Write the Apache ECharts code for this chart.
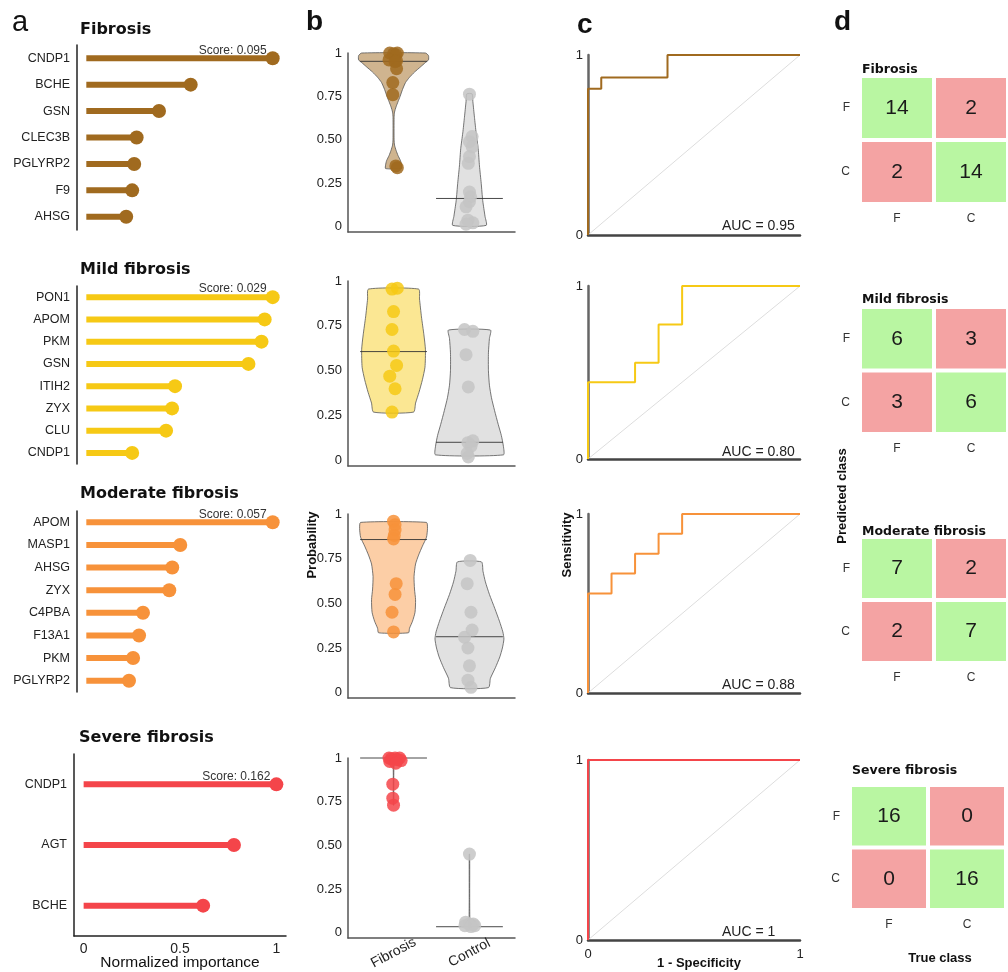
<!DOCTYPE html>
<html><head><meta charset="utf-8">
<script src="https://cdn.jsdelivr.net/npm/echarts@6/dist/echarts.min.js"></script>
<style>html,body{margin:0;padding:0;background:#fff}#c{width:1008px;height:972px}</style>
</head><body><div id="c"></div>
<script>
// ---------- DATA ----------
// Panel a: normalized importance
const stages = ['Fibrosis', 'Mild fibrosis', 'Moderate fibrosis', 'Severe fibrosis'];
const genesFibrosis = ['CNDP1','BCHE','GSN','CLEC3B','PGLYRP2','F9','AHSG'];
const impFibrosis   = [1, 0.56, 0.39, 0.27, 0.257, 0.246, 0.214];
const genesMild     = ['PON1','APOM','PKM','GSN','ITIH2','ZYX','CLU','CNDP1'];
const impMild       = [1, 0.957, 0.94, 0.87, 0.476, 0.46, 0.428, 0.246];
const genesModerate = ['APOM','MASP1','AHSG','ZYX','C4PBA','F13A1','PKM','PGLYRP2'];
const impModerate   = [1, 0.504, 0.461, 0.445, 0.304, 0.283, 0.251, 0.229];
const genesSevere   = ['CNDP1','AGT','BCHE'];
const impSevere     = [1, 0.78, 0.62];
const topScores     = ['0.095','0.029','0.057','0.162'];
const importanceTicks = [0, 0.5, 1];

// Panel b: predicted probabilities (value, jitter)
const groups = ['Fibrosis','Control'];
const probTicks = [0, 0.25, 0.5, 0.75, 1];
const pFibrosisF = [1.0,1.0,0.995,0.99,0.96,0.955,0.95,0.91,0.83,0.76,0.35,0.34];
const jFibrosisF = [-0.05,0.05,0.0,0.03,-0.06,0.04,0.02,0.04,-0.01,-0.01,0.03,0.05];
const pFibrosisC = [0.763,0.519,0.49,0.46,0.404,0.365,0.20,0.173,0.144,0.115,0.038,0.023,0.015];
const jFibrosisC = [0,0.035,0,0.035,0,-0.015,0,0.015,0,-0.045,-0.02,0.045,-0.045];
const pMildF = [0.96,0.955,0.83,0.73,0.61,0.53,0.47,0.40,0.27];
const jMildF = [0.05,-0.02,0,-0.02,0,0.04,-0.05,0.02,-0.02];
const pMildC = [0.73,0.72,0.59,0.41,0.11,0.10,0.08,0.04,0.02];
const jMildC = [-0.065,0.045,-0.045,-0.015,0.045,-0.02,0.02,-0.03,-0.015];
const pModF = [0.96,0.94,0.91,0.88,0.86,0.61,0.55,0.45,0.34];
const jModF = [0,0.02,0.02,0.01,0,0.035,0.02,-0.02,0];
const pModC = [0.74,0.61,0.45,0.35,0.31,0.25,0.15,0.07,0.03];
const jModC = [0.01,-0.03,0.02,0.035,-0.065,-0.02,0,-0.02,0.02];
const pSevF = [1.0,1.0,1.0,0.995,0.99,0.985,0.98,0.97,0.85,0.77,0.73];
const jSevF = [-0.06,0.02,0.08,-0.03,0.05,0.1,-0.05,0.03,-0.01,-0.01,0];
const pSevC = [0.45,0.06,0.05,0.05,0.04,0.04,0.035];
const jSevC = [0,-0.05,0.05,0.0,-0.06,0.07,0.02];
const medFibrosis = [0.952, 0.163];
const medMild     = [0.607, 0.102];
const medModerate = [0.857, 0.313];
const medSevere   = [1.0, 0.034];
// violin outlines: [probability, half width in group units]
const vFibrosisF = [[1.0,0.42],[0.985,0.46],[0.96,0.46],[0.945,0.42],[0.92,0.355],[0.89,0.276],[0.86,0.21],[0.83,0.158],[0.79,0.118],[0.75,0.086],[0.72,0.059],[0.69,0.033],[0.66,0.013],[0.63,0.007],[0.5,0.007],[0.47,0.013],[0.44,0.033],[0.41,0.059],[0.38,0.092],[0.355,0.105],[0.335,0.105]];
const vFibrosisC = [[0.765,0.035],[0.72,0.045],[0.63,0.066],[0.54,0.088],[0.45,0.115],[0.35,0.132],[0.25,0.155],[0.15,0.175],[0.06,0.205],[0.008,0.22]];
const vMildF = [[0.955,0.33],[0.90,0.342],[0.80,0.368],[0.70,0.40],[0.62,0.42],[0.52,0.414],[0.45,0.38],[0.38,0.335],[0.32,0.29],[0.27,0.263]];
const vMildC = [[0.727,0.276],[0.68,0.263],[0.60,0.25],[0.50,0.25],[0.42,0.263],[0.35,0.29],[0.28,0.33],[0.20,0.38],[0.14,0.42],[0.08,0.447],[0.032,0.447]];
const vModF = [[0.953,0.434],[0.92,0.447],[0.87,0.434],[0.82,0.38],[0.77,0.33],[0.72,0.29],[0.65,0.27],[0.58,0.276],[0.52,0.29],[0.45,0.283],[0.40,0.25],[0.36,0.21],[0.335,0.197]];
const vModC = [[0.732,0.158],[0.68,0.178],[0.62,0.21],[0.55,0.263],[0.47,0.335],[0.40,0.395],[0.34,0.44],[0.30,0.454],[0.25,0.434],[0.20,0.40],[0.14,0.342],[0.08,0.276],[0.028,0.25]];
const vSevF = [[1.0,0.012],[0.97,0.006],[0.9,0.003],[0.73,0.003]];
const vSevC = [[0.45,0.003],[0.2,0.003],[0.08,0.005],[0.03,0.01]];

// Panel c: ROC curves [1-specificity, sensitivity]
const rocFibrosis = [[0,0],[0,0.8125],[0.0625,0.8125],[0.0625,0.875],[0.375,0.875],[0.375,1],[1,1]];
const rocMild = [[0,0],[0,0.444],[0.222,0.444],[0.222,0.556],[0.333,0.556],[0.333,0.778],[0.444,0.778],[0.444,1],[1,1]];
const rocModerate = [[0,0],[0,0.556],[0.111,0.556],[0.111,0.667],[0.222,0.667],[0.222,0.778],[0.333,0.778],[0.333,0.889],[0.444,0.889],[0.444,1],[1,1]];
const rocSevere = [[0,0],[0,1],[1,1]];
const aucLabels = ['AUC = 0.95','AUC = 0.80','AUC = 0.88','AUC = 1'];
const rocTicks = [0, 1];

// Panel d: confusion matrices [predF&trueF, predF&trueC, predC&trueF, predC&trueC]
const classLabels = ['F','C'];
const cmFibrosis = [14, 2, 2, 14];
const cmMild     = [6, 3, 3, 6];
const cmModerate = [7, 2, 2, 7];
const cmSevere   = [16, 0, 0, 16];

// ---------- STYLE / LAYOUT ----------
const FONT = '"Liberation Sans", Arial, sans-serif';
const DJ = '"DejaVu Sans", sans-serif';
const colors = ['#A06A1F', '#F6C915', '#F7923A', '#F4454A'];
const fills = ['rgba(160,106,31,0.5)','rgba(248,208,40,0.5)','rgba(249,146,58,0.45)','rgba(244,69,74,0.5)'];
const GREY_PT = '#C4C4C4', GREY_FILL = 'rgba(195,195,195,0.5)';
const GREEN = '#B9F6A2', RED = '#F4A3A3';
const MED_HW = 0.44;

const aGenes = [genesFibrosis, genesMild, genesModerate, genesSevere];
const aVals = [impFibrosis, impMild, impModerate, impSevere];
const bPts = [[pFibrosisF,jFibrosisF,pFibrosisC,jFibrosisC],[pMildF,jMildF,pMildC,jMildC],[pModF,jModF,pModC,jModC],[pSevF,jSevF,pSevC,jSevC]];
const bMed = [medFibrosis, medMild, medModerate, medSevere];
const bViol = [[vFibrosisF,vFibrosisC],[vMildF,vMildC],[vModF,vModC],[vSevF,vSevC]];
const rocs = [rocFibrosis, rocMild, rocModerate, rocSevere];
const cms = [cmFibrosis, cmMild, cmModerate, cmSevere];

const aLayout = [{left:77,top:45,width:205,height:185},{left:77,top:286,width:205,height:178},{left:77,top:511,width:205,height:181},{left:74,top:754,width:212,height:182}];
const bLayout = [{left:348,width:167,top:53,height:179},{left:348,width:167,top:281,height:185},{left:348,width:167,top:514,height:184},{left:348,width:167,top:758,height:184}];
const cLayout = [{left:588,width:212,top:55,height:180},{left:588,width:212,top:286,height:173},{left:588,width:212,top:514,height:179},{left:588,width:212,top:760,height:180}];
const dLayout = [{left:860,width:156,top:76,height:128},{left:860,width:156,top:307,height:127},{left:860,width:156,top:537,height:126},{left:850,width:156,top:785,height:125}];

const grids = [], xAxes = [], yAxes = [], series = [], graphics = [];
function addGrid(g){ grids.push(g); return grids.length - 1; }
function txt(x, y, text, font, align, rot, color){
  graphics.push({type:'text', x:x, y:y, rotation: rot || 0,
    style:{text:text, font:font, fill: color || '#111', align: align || 'left', verticalAlign:'middle'}});
}

// ---------- Panel a ----------
for (let i = 0; i < 4; i++) {
  const gi = addGrid(aLayout[i]);
  xAxes.push({gridIndex:gi, type:'value', min:-0.05, max:1.05, show: i === 3,
    axisLine:{show:true, onZero:false, lineStyle:{color:'#222', width:1.5}},
    axisTick:{show:false}, splitLine:{show:false},
    axisLabel:{customValues: importanceTicks, formatter: v => String(v), fontSize:14, color:'#222', fontFamily:FONT, margin:6}});
  yAxes.push({gridIndex:gi, type:'category', data:aGenes[i], inverse:true,
    axisLine:{show:true, onZero:false, lineStyle:{color:'#222', width:1.5}},
    axisTick:{show:false}, axisLabel:{fontSize:12.5, color:'#222', fontFamily:FONT, margin:7}});
  series.push({type:'bar', xAxisIndex:gi, yAxisIndex:gi, data:aVals[i], barWidth:6,
    itemStyle:{color:colors[i]}, silent:true});
  series.push({type:'scatter', xAxisIndex:gi, yAxisIndex:gi, symbolSize:14, silent:true,
    itemStyle:{color:colors[i], opacity:1},
    data: aVals[i].map((v, k) => k === 0 ? {value:[v, k], label:{show:true, formatter:'Score: ' + topScores[i],
      position:'top', align:'right', offset:[-6, 10], fontSize:12, color:'#333', fontFamily:FONT}} : [v, k])});
}

// ---------- Panel b ----------
function violinRender(profiles, fillsArr) {
  return function (params, api) {
    const prof = profiles[params.dataIndex];
    const cx = api.value(0);
    const right = prof.map(p => api.coord([cx + p[1], p[0]]));
    const left = prof.slice().reverse().map(p => api.coord([cx - p[1], p[0]]));
    return {type:'polygon', shape:{points: right.concat(left), smooth:0.2},
      style:{fill: fillsArr[params.dataIndex], stroke:'#555', lineWidth:0.8}};
  };
}
function medianRender(params, api) {
  const cx = api.value(0), m = api.value(1);
  const p1 = api.coord([cx - MED_HW, m]), p2 = api.coord([cx + MED_HW, m]);
  return {type:'line', shape:{x1:p1[0], y1:p1[1], x2:p2[0], y2:p2[1]}, style:{stroke:'#333', lineWidth:0.9}};
}
for (let i = 0; i < 4; i++) {
  const gi = addGrid(bLayout[i]);
  xAxes.push({gridIndex:gi, type:'value', min:0.4, max:2.6,
    axisLine:{show:true, onZero:false, lineStyle:{color:'#555', width:1.5}},
    axisTick:{show:false}, splitLine:{show:false},
    axisLabel:{show: i === 3, customValues:[1, 2], formatter: v => groups[Math.round(v) - 1],
      rotate:28, align:'center', verticalAlign:'middle', margin:15, fontSize:14, color:'#222', fontFamily:FONT}});
  yAxes.push({gridIndex:gi, type:'value', min:-0.03, max:1,
    axisLine:{show:true, onZero:false, lineStyle:{color:'#555', width:1.5}},
    axisTick:{show:false}, splitLine:{show:false},
    axisLabel:{customValues: probTicks, formatter: v => (v === 0 ? '0' : v === 1 ? '1' : v.toFixed(2)),
      fontSize:13, color:'#222', fontFamily:FONT, margin:6}});
  const pts = bPts[i];
  series.push({type:'custom', xAxisIndex:gi, yAxisIndex:gi, silent:true,
    renderItem: violinRender(bViol[i], [fills[i], GREY_FILL]),
    data:[[1, bMed[i][0]], [2, bMed[i][1]]]});
  series.push({type:'custom', xAxisIndex:gi, yAxisIndex:gi, silent:true, renderItem: medianRender,
    data:[[1, bMed[i][0]], [2, bMed[i][1]]]});
  series.push({type:'scatter', xAxisIndex:gi, yAxisIndex:gi, symbolSize:13, silent:true,
    itemStyle:{color:colors[i], opacity:0.85}, data: pts[0].map((v, k) => [1 + pts[1][k], v])});
  series.push({type:'scatter', xAxisIndex:gi, yAxisIndex:gi, symbolSize:13, silent:true,
    itemStyle:{color:GREY_PT, opacity:0.85}, data: pts[2].map((v, k) => [2 + pts[3][k], v])});
}

// ---------- Panel c ----------
for (let i = 0; i < 4; i++) {
  const gi = addGrid(cLayout[i]);
  xAxes.push({gridIndex:gi, type:'value', min:0, max:1, interval:1,
    axisLine:{show:true, onZero:false, lineStyle:{color:'#444', width:2.5}},
    axisTick:{show:false}, splitLine:{show:false},
    axisLabel:{show: i === 3, fontSize:13, color:'#222', fontFamily:FONT, margin:8,
      formatter: v => String(rocTicks[Math.round(v)])}});
  yAxes.push({gridIndex:gi, type:'value', min:0, max:1, interval:1,
    axisLine:{show:true, onZero:false, lineStyle:{color:'#666', width:2.5}},
    axisTick:{show:false}, splitLine:{show:false},
    axisLabel:{fontSize:13, color:'#222', fontFamily:FONT, margin:5,
      formatter: v => String(rocTicks[Math.round(v)])}});
  series.push({type:'line', xAxisIndex:gi, yAxisIndex:gi, data:[[0,0],[1,1]], symbol:'none', silent:true,
    lineStyle:{color:'#DDDDDD', width:1}});
  series.push({type:'line', xAxisIndex:gi, yAxisIndex:gi, data:rocs[i], symbol:'none', silent:true,
    lineStyle:{color:colors[i], width:2}, z:3});
}

// ---------- Panel d ----------
function cmRender(params, api) {
  const c = api.coord([api.value(0), api.value(1)]);
  const s = api.size([1, 1]);
  const ok = api.value(3) === 1;
  return {type:'group', children:[
    {type:'rect', shape:{x:c[0] - s[0] / 2 + 2, y:c[1] - s[1] / 2 + 2, width:s[0] - 4, height:s[1] - 4},
      style:{fill: ok ? GREEN : RED}},
    {type:'text', x:c[0], y:c[1], style:{text:String(api.value(2)), align:'center', verticalAlign:'middle',
      font:'21px ' + FONT, fill:'#1a1a1a'}}
  ]};
}
for (let i = 0; i < 4; i++) {
  const gi = addGrid(dLayout[i]);
  const m = cms[i];
  xAxes.push({gridIndex:gi, type:'category', data:classLabels,
    axisLine:{show:false}, axisTick:{show:false},
    axisLabel:{fontSize:12, color:'#333', fontFamily:FONT, margin:9}});
  yAxes.push({gridIndex:gi, type:'category', data:classLabels, inverse:true,
    axisLine:{show:false}, axisTick:{show:false},
    axisLabel:{fontSize:12, color:'#333', fontFamily:FONT, margin:10}});
  series.push({type:'custom', xAxisIndex:gi, yAxisIndex:gi, silent:true, renderItem: cmRender,
    data:[[0,0,m[0],1],[1,0,m[1],0],[0,1,m[2],0],[1,1,m[3],1]]});
}

// ---------- Text ----------
txt(12, 23, 'a', '29px ' + FONT, 'left');
txt(306, 22, 'b', 'bold 28px ' + FONT, 'left');
txt(577, 25, 'c', 'bold 28px ' + FONT, 'left');
txt(834, 22, 'd', 'bold 28px ' + FONT, 'left');
const aTitleY = [30, 269.5, 494, 738];
for (let i = 0; i < 4; i++) txt(i === 3 ? 79 : 80, aTitleY[i], stages[i], 'bold 16px ' + DJ, 'left');
txt(180, 963, 'Normalized importance', '15.5px ' + FONT, 'center', 0, '#111');
txt(312, 545, 'Probability', 'bold 13px ' + FONT, 'center', Math.PI / 2);
txt(567, 545, 'Sensitivity', 'bold 13px ' + FONT, 'center', Math.PI / 2);
txt(699, 963, '1 - Specificity', 'bold 13px ' + FONT, 'center');
const aucY = [226, 452, 685, 932];
for (let i = 0; i < 4; i++) txt(722, aucY[i], aucLabels[i], '14px ' + FONT, 'left', 0, '#222');
const dTitleY = [70, 300, 532, 771];
for (let i = 0; i < 4; i++) txt(i === 3 ? 852 : 862, dTitleY[i], stages[i], 'bold 12.5px ' + DJ, 'left');
txt(842, 496, 'Predicted class', 'bold 13px ' + FONT, 'center', Math.PI / 2);
txt(940, 958, 'True class', 'bold 13px ' + FONT, 'center');

const chart = echarts.init(document.getElementById('c'), null, {renderer:'canvas'});
chart.setOption({
  animation:false, backgroundColor:'#fff',
  textStyle:{fontFamily:FONT},
  grid:grids, xAxis:xAxes, yAxis:yAxes, series:series, graphic:graphics
});
</script></body></html>
